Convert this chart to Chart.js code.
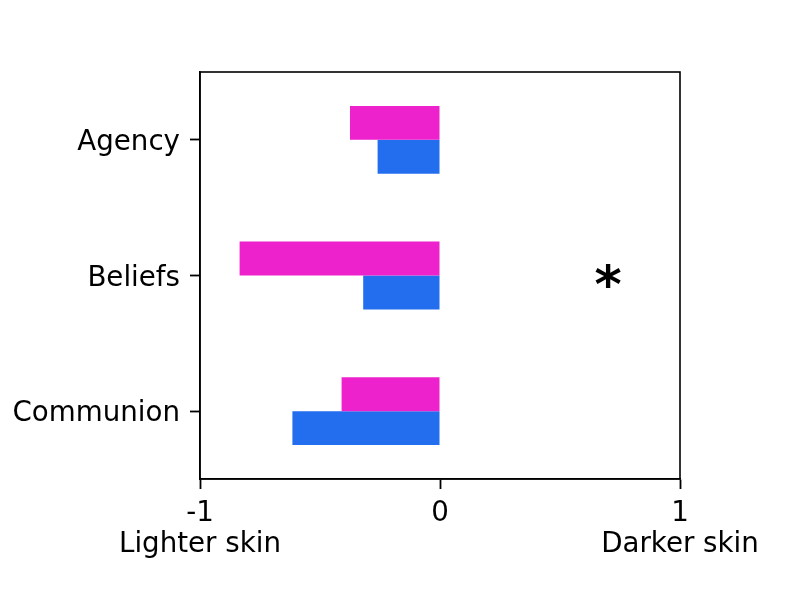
<!DOCTYPE html>
<html>
<head>
<meta charset="utf-8">
<script src="https://cdn.jsdelivr.net/npm/chart.js@4/dist/chart.umd.min.js"></script>
<style>
  html, body { margin: 0; padding: 0; background: #fff; }
  #wrap { width: 800px; height: 600px; }
</style>
</head>
<body>
<div id="wrap"><canvas id="skinChart" width="800" height="600"></canvas></div>
<script>
// Data
const categories = ['Agency', 'Beliefs', 'Communion'];
const magentaValues = [-0.375, -0.835, -0.41];
const blueValues = [-0.26, -0.32, -0.615];
const xTickValues = [-1, 0, 1];
const xTickLabels = [['-1', 'Lighter skin'], ['0', ''], ['1', 'Darker skin']];
// significance marker: category and x position
const starCategory = 'Beliefs';
const starX = 0.7;

const FONT = 'DejaVu Sans';

// Box around the plot area (matplotlib-style frame)
const framePlugin = {
    id: 'frame',
    afterDraw(chart) {
        const { ctx, chartArea } = chart;
        ctx.save();
        ctx.strokeStyle = '#000';
        ctx.lineWidth = 1.6;
        ctx.strokeRect(chartArea.left, chartArea.top, chartArea.right - chartArea.left, chartArea.bottom - chartArea.top);
        ctx.restore();
    }
};

// Asterisk drawn at data coordinates
const starPlugin = {
    id: 'star',
    afterDatasetsDraw(chart) {
        const { ctx, scales } = chart;
        const x = scales.x.getPixelForValue(starX);
        const y = scales.y.getPixelForValue(categories.indexOf(starCategory));
        ctx.save();
        ctx.font = 'bold 52px ' + FONT;
        ctx.fillStyle = '#000';
        ctx.textAlign = 'center';
        ctx.textBaseline = 'alphabetic';
        const m = ctx.measureText('*');
        const mid = (m.actualBoundingBoxAscent - m.actualBoundingBoxDescent) / 2;
        ctx.fillText('*', x, y + mid);
        ctx.restore();
    }
};

const ctx = document.getElementById('skinChart').getContext('2d');
new Chart(ctx, {
    type: 'bar',
    data: {
        labels: categories,
        datasets: [
            {
                data: magentaValues,
                backgroundColor: '#ee22cc',
                borderWidth: 0,
                categoryPercentage: 0.5,
                barPercentage: 1.0
            },
            {
                data: blueValues,
                backgroundColor: '#226eee',
                borderWidth: 0,
                categoryPercentage: 0.5,
                barPercentage: 1.0
            }
        ]
    },
    options: {
        indexAxis: 'y',
        responsive: false,
        animation: false,
        layout: {
            padding: { top: 72, right: 120, bottom: 0, left: 0 }
        },
        plugins: {
            legend: { display: false },
            tooltip: { enabled: false }
        },
        scales: {
            x: {
                min: -1,
                max: 1,
                afterBuildTicks: function(scale) {
                    scale.ticks = xTickValues.map(v => ({ value: v }));
                },
                afterFit: function(scale) {
                    scale.height = 121;
                },
                ticks: {
                    autoSkip: false,
                    maxRotation: 0,
                    color: '#000',
                    padding: 9,
                    font: { family: FONT, size: 27.7, lineHeight: 1.12 },
                    callback: function(value) {
                        const i = xTickValues.indexOf(value);
                        return i >= 0 ? xTickLabels[i] : '';
                    }
                },
                grid: {
                    drawOnChartArea: false,
                    drawTicks: true,
                    tickLength: 10,
                    tickWidth: 1.8,
                    tickColor: '#000'
                },
                border: { display: true, color: '#000', width: 1.6 }
            },
            y: {
                afterFit: function(scale) {
                    scale.width = 200;
                },
                ticks: {
                    color: '#000',
                    padding: 10,
                    labelOffset: 3,
                    font: { family: FONT, size: 27.7 }
                },
                grid: {
                    drawOnChartArea: false,
                    drawTicks: true,
                    tickLength: 10,
                    tickWidth: 1.8,
                    tickColor: '#000',
                    offset: false
                },
                border: { display: true, color: '#000', width: 1.6 }
            }
        }
    },
    plugins: [framePlugin, starPlugin]
});
</script>
</body>
</html>
